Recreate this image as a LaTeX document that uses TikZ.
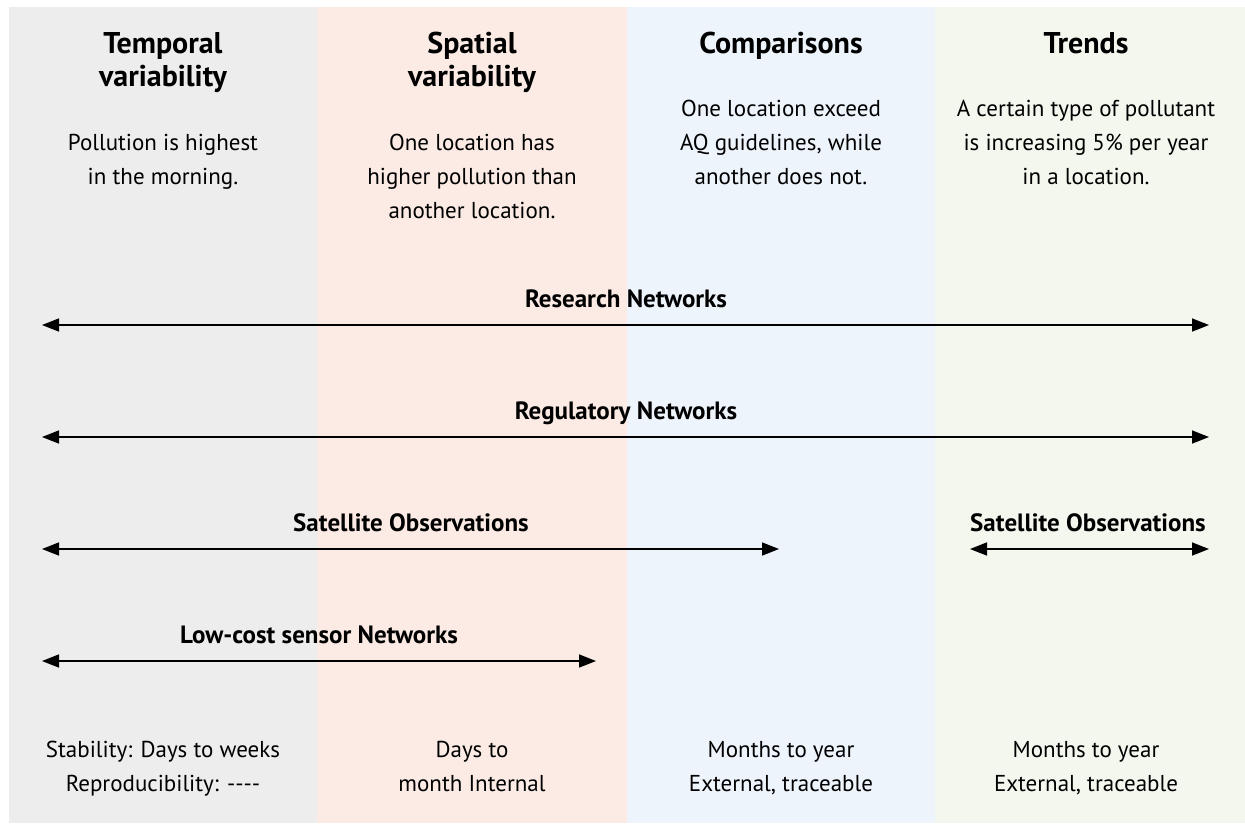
\documentclass[tikz,border=0pt]{standalone}
\usepackage{fontspec}
\setmainfont{PT Sans}
\usepackage{tikz}
\usetikzlibrary{arrows.meta,positioning}
\definecolor{clrTemporal}{HTML}{EDEDED}
\definecolor{clrSpatial}{HTML}{FBEBE4}
\definecolor{clrCompare}{HTML}{EDF4FC}
\definecolor{clrTrends}{HTML}{F4F7EE}
\tikzstyle{head_style}=[anchor=base, align=center, inner sep=0pt,
font=\fontsize{30}{33}\selectfont\bfseries]
\tikzstyle{text_style}=[anchor=base, align=center, inner sep=0pt,
font=\fontsize{23}{34}\selectfont]
\tikzstyle{label_style}=[anchor=base, inner sep=0pt,
font=\fontsize{25}{26}\selectfont\bfseries]
\tikzstyle{myarrow}=[{Triangle[length=17pt,width=13pt]}-{Triangle[length=17pt,width=13pt]}, line width=1.6pt]

\begin{document}
\begin{tikzpicture}[x=1pt,y=-1pt]
		\useasboundingbox (0,0) rectangle (1245,823);

		% background columns
		\fill[clrTemporal] (9,7) rectangle (317,823);
		\fill[clrSpatial] (317,7) rectangle (627,823);
		\fill[clrCompare] (627,7) rectangle (935,823);
		\fill[clrTrends] (935,7) rectangle (1245,823);

		% column headings (base = last line)
		\node[head_style] (TH) at (163,86) {Temporal\\variability};
		\node[head_style] (SH) at (472,86) {Spatial\\variability};
		\node[head_style] (CH) at (781,53) {Comparisons};
		\node[head_style] (RH) at (1086,53) {Trends};

		% examples
		\node[text_style] (TX) at (163,184) {Pollution is highest\\in the morning.};
		\node[text_style] (SX) at (472,218) {One location has\\higher pollution than\\another location.};
		\node[text_style] (CX) at (781,184) {One location exceed\\AQ guidelines, while\\another does not.};
		\node[text_style] (RX) at (1086,184) {A certain type of pollutant\\is increasing 5\% per year\\in a location.};

		% networks
		\coordinate (resL) at (42,325);
		\coordinate (resR) at (1209,325);
		\node[label_style] (res) at (626,307) {Research Networks};
		\draw[myarrow] (resL) -- (resR);

		\coordinate (regL) at (42,437);
		\coordinate (regR) at (1209,437);
		\node[label_style] (reg) at (626,419) {Regulatory Networks};
		\draw[myarrow] (regL) -- (regR);

		\coordinate (satL) at (42,549);
		\coordinate (satR) at (779,549);
		\node[label_style] (sat) at (411,531) {Satellite Observations};
		\draw[myarrow] (satL) -- (satR);

		\coordinate (sat2L) at (970,549);
		\coordinate (sat2R) at (1209,549);
		\node[label_style] (sat2) at (1088,531) {Satellite Observations};
		\draw[myarrow] (sat2L) -- (sat2R);

		\coordinate (lcsL) at (42,661);
		\coordinate (lcsR) at (596,661);
		\node[label_style] (lcs) at (319,643) {Low-cost sensor Networks};
		\draw[myarrow] (lcsL) -- (lcsR);

		% stability / reproducibility
		\node[text_style] (TS) at (163,791) {Stability: Days to weeks\\Reproducibility: -{}-{}-{}-};
		\node[text_style] (SS) at (472,791) {Days to\\month Internal};
		\node[text_style] (CS) at (781,791) {Months to year\\External, traceable};
		\node[text_style] (RS) at (1086,791) {Months to year\\External, traceable};
	\end{tikzpicture}
\end{document}
